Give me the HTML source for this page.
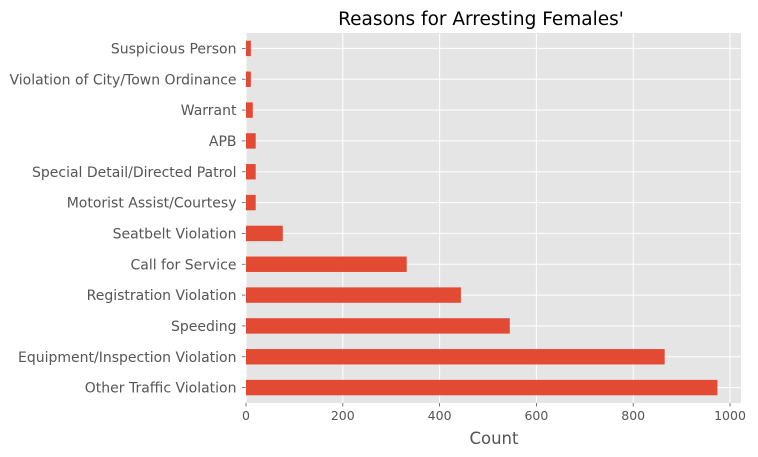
<!DOCTYPE html>
<html><head><meta charset="utf-8"><style>
body{margin:0;background:#fff;}
svg{display:block;font-family:"DejaVu Sans","Liberation Sans",sans-serif;}
</style></head><body>
<svg id="chart" width="758" height="457">
<rect x="0" y="0" width="758" height="457" fill="#fff"/>
<g id="plot"></g>
</svg>
<script>
const categories=["Suspicious Person","Violation of City/Town Ordinance","Warrant","APB","Special Detail/Directed Patrol","Motorist Assist/Courtesy","Seatbelt Violation","Call for Service","Registration Violation","Speeding","Equipment/Inspection Violation","Other Traffic Violation"];
const counts=[10,10,14,20,20,20,76,332,444,545,865,974];
const xTicks=[0,200,400,600,800,1000];
const NS="http://www.w3.org/2000/svg";
const g=document.getElementById('plot');
const L=245.5,R=741,T=33,B=403;
const xmax=Math.max(...counts)*1.05;
const x=v=>L+0.5+v/xmax*(R-L-0.5);
const step=(B-T)/categories.length;
const y=i=>T+step*(i+0.5);
function el(tag,attrs,text){const e=document.createElementNS(NS,tag);for(const k in attrs)e.setAttribute(k,attrs[k]);if(text!==undefined)e.textContent=text;g.appendChild(e);return e;}
const bg=el('rect',{x:L,y:T,width:R-L,height:B-T,fill:'#e5e5e5'});


xTicks.forEach(t=>{
 const l=el('line',{x1:x(t),x2:x(t),y1:T,y2:B,stroke:'#fff','stroke-width':1});
 
 
 const tk=el('line',{x1:x(t),x2:x(t),y1:B,y2:B+3.5,stroke:'#555','stroke-width':0.8});
 
 
 const tx=el('text',{x:x(t),y:B+17,'text-anchor':'middle','font-size':12.5,fill:'#555'},String(t));
 
 
});
categories.forEach((c,i)=>{
 const l=el('line',{x1:L,x2:R,y1:y(i),y2:y(i),stroke:'#fff','stroke-width':1});
 
 
});
categories.forEach((c,i)=>{
 const h=step*0.5;
 const r=el('rect',{x:x(0),y:y(i)-h/2,width:x(counts[i])-x(0),height:h,fill:'#e24a33'});
 
 
 const tk=el('line',{x1:L-3.5,x2:L,y1:y(i),y2:y(i),stroke:'#555','stroke-width':0.8});
 
 
 const tx=el('text',{x:L-9,y:y(i)+5,'text-anchor':'end','font-size':14,fill:'#555'},c);
 
 
});
const xl=el('text',{x:494,y:444,'text-anchor':'middle','font-size':16.5,fill:'#555'},'Count');


const ti=el('text',{x:481,y:25,'text-anchor':'middle','font-size':18.5,fill:'#000'},"Reasons for Arresting Females'");


</script>
</body></html>
